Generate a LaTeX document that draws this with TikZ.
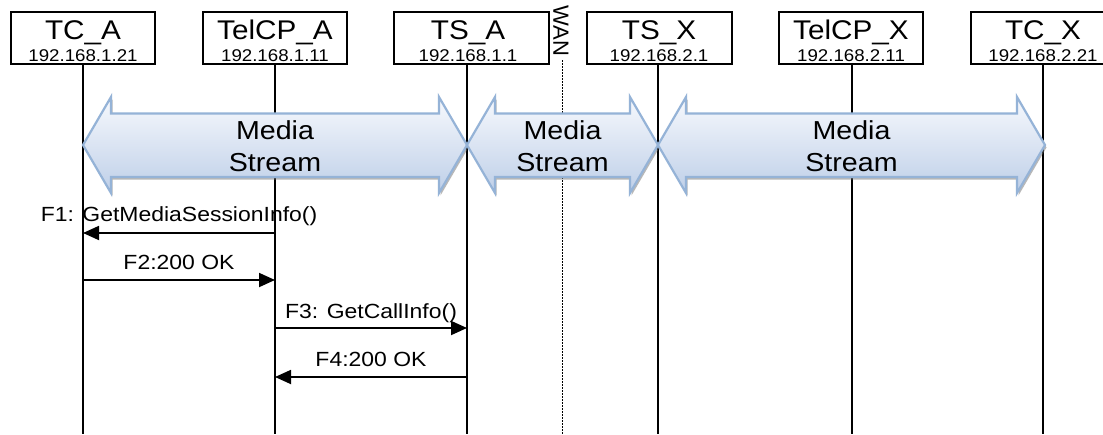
\documentclass[tikz,border=0pt]{standalone}
\usepackage{fontspec}
\setmainfont{Liberation Sans}
\newfontfamily\ttlfont[FakeStretch=1.1]{Liberation Sans}
\newfontfamily\msgfont[FakeStretch=1.12]{Liberation Sans}
\usetikzlibrary{arrows.meta,shadows}
\definecolor{msline}{RGB}{149,179,215}
\definecolor{mstop}{RGB}{247,249,253}
\definecolor{msbot}{RGB}{190,207,232}
\begin{document}
\begin{tikzpicture}[x=1pt,y=-1pt,
 entity/.style={draw,line width=1.8pt,minimum height=52pt,inner sep=0pt,fill=white},
 ttl/.style={anchor=base,inner sep=0pt,font=\ttlfont\fontsize{27}{27}\selectfont},
 ip/.style={anchor=base,inner sep=0pt,font=\ttlfont\fontsize{17}{17}\selectfont},
 lifeline/.style={line width=1.8pt},
 msg/.style={line width=1.8pt,-{Triangle[length=16pt,width=14pt]}},
 msglabel/.style={font=\msgfont\fontsize{20.5}{20.5}\selectfont,inner sep=0pt,anchor=base},
 stream/.style={draw=msline,line width=2.2pt,top color=mstop,bottom color=msbot,
   drop shadow={shadow xshift=1.5pt,shadow yshift=-2.5pt,opacity=.5,fill=black!55}},
 streamtxt/.style={align=center,font=\ttlfont\fontsize{26}{32}\selectfont,inner sep=0pt}
]
\useasboundingbox (0,0) rectangle (1103,434);
\fill[white] (0,0) rectangle (1103,434);
\clip (0,0) rectangle (1103,434);

% entity boxes
\node[entity,minimum width=144pt] (tca)    at (83,38)    {};
\node[entity,minimum width=144pt] (telcpa) at (275,38)   {};
\node[entity,minimum width=155pt] (tsa)    at (471.5,38) {};
\node[entity,minimum width=145pt] (tsx)    at (659.5,38) {};
\node[entity,minimum width=144pt] (telcpx) at (851,38)   {};
\node[entity,minimum width=144pt] (tcx)    at (1043,38)  {};

\node[ttl] (tcat) at (83,39) {TC\_A};
\node[ip]  (tcai) at (83,61) {192.168.1.21};
\node[ttl] (telcpat) at (275,39) {TelCP\_A};
\node[ip]  (telcpai) at (275,61) {192.168.1.11};
\node[ttl] (tsat) at (468,39) {TS\_A};
\node[ip]  (tsai) at (468,61) {192.168.1.1};
\node[ttl] (tsxt) at (659,39) {TS\_X};
\node[ip]  (tsxi) at (659,61) {192.168.2.1};
\node[ttl] (telcpxt) at (851,39) {TelCP\_X};
\node[ip]  (telcpxi) at (851,61) {192.168.2.11};
\node[ttl] (tcxt) at (1043,39) {TC\_X};
\node[ip]  (tcxi) at (1043,61) {192.168.2.21};

% WAN
\node[rotate=-90,inner sep=0pt,font=\fontsize{22}{22}\selectfont] (wan) at (561,31) {WAN};
\coordinate (wanend) at (562,434);
\draw[line width=0.9pt,dash pattern=on 1.6pt off 1.4pt] (562,60) -- (wanend);

% lifelines
\coordinate (tcaend) at (83,434);
\coordinate (telcpaend) at (275,434);
\coordinate (tsaend) at (467,434);
\coordinate (tsxend) at (658,434);
\coordinate (telcpxend) at (852,434);
\coordinate (tcxend) at (1043,434);
\draw[lifeline] (tca.south -| tcaend) -- (tcaend);
\draw[lifeline] (telcpa.south -| telcpaend) -- (telcpaend);
\draw[lifeline] (tsa.south -| tsaend) -- (tsaend);
\draw[lifeline] (tsx.south -| tsxend) -- (tsxend);
\draw[lifeline] (telcpx.south -| telcpxend) -- (telcpxend);
\draw[lifeline] (tcx.south -| tcxend) -- (tcxend);

% media streams
\draw[stream] (83,145) -- (111,97) -- (111,113.5) -- (439,113.5) -- (439,97) -- (467,145)
  -- (439,193) -- (439,177) -- (111,177) -- (111,193) -- cycle;
\node[streamtxt] (ms1) at (275,146.5) {Media\\Stream};
\draw[stream] (467,145) -- (495,97) -- (495,113.5) -- (630,113.5) -- (630,97) -- (658,145)
  -- (630,193) -- (630,177) -- (495,177) -- (495,193) -- cycle;
\node[streamtxt] (ms2) at (562.5,146.5) {Media\\Stream};
\draw[stream] (658,145) -- (686,97) -- (686,113.5) -- (1017,113.5) -- (1017,97) -- (1045,145)
  -- (1017,193) -- (1017,177) -- (686,177) -- (686,193) -- cycle;
\node[streamtxt] (ms3) at (851.5,146.5) {Media\\Stream};

% messages
\coordinate (f1s) at (275,233);   \coordinate (f1e) at (83,233);
\coordinate (f2s) at (83,280);    \coordinate (f2e) at (275,280);
\coordinate (f3s) at (275,328);   \coordinate (f3e) at (467,328);
\coordinate (f4s) at (467,377);   \coordinate (f4e) at (275,377);
\draw[msg] (f1s) -- (f1e);
\draw[msg] (f2s) -- (f2e);
\draw[msg] (f3s) -- (f3e);
\draw[msg] (f4s) -- (f4e);
\node[msglabel] (l1) at (179,221) {F1: GetMediaSessionInfo()};
\node[msglabel] (l2) at (179,269.5) {F2:200 OK};
\node[msglabel] (l3) at (371,318) {F3: GetCallInfo()};
\node[msglabel] (l4) at (371,366) {F4:200 OK};
\end{tikzpicture}
\end{document}
